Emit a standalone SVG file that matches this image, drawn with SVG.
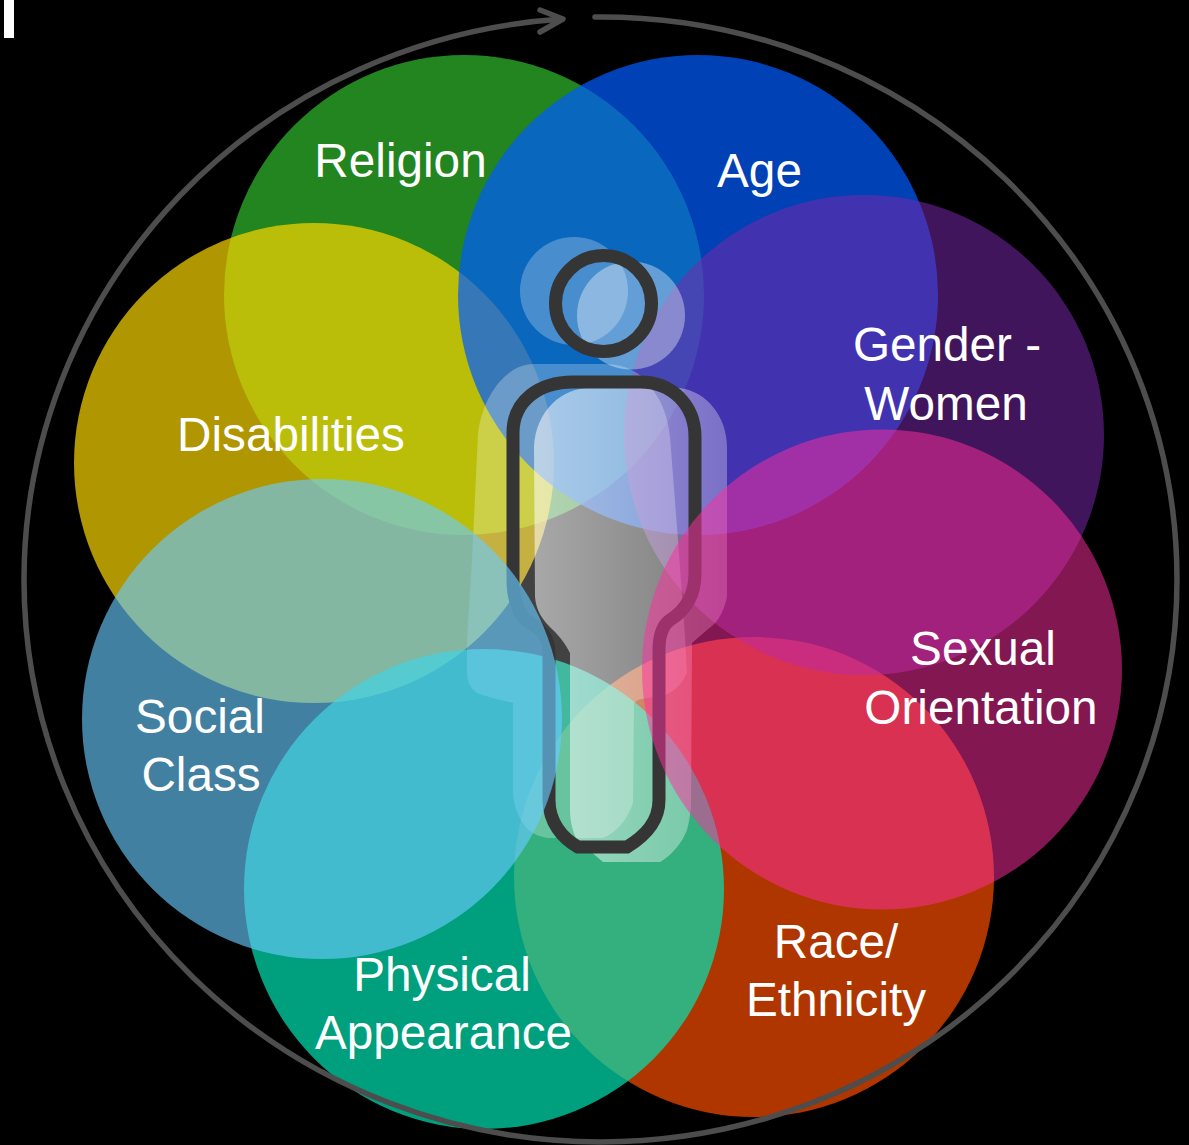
<svg xmlns="http://www.w3.org/2000/svg" width="1189" height="1145" viewBox="0 0 1189 1145">
<style>
text{font-family:"Liberation Sans",Arial,sans-serif;font-size:47.7px;fill:#fff;text-anchor:middle}
.c{stroke:none}
.ln{fill:none;stroke:#353535;stroke-width:13}
.ring{fill:none;stroke:#4d4d4d;stroke-width:5.5;stroke-linecap:round;stroke-linejoin:round}
</style>
<defs>
<linearGradient id="gb" gradientUnits="userSpaceOnUse" x1="534" y1="0" x2="727" y2="0"><stop offset="0" stop-color="#fff" stop-opacity=".54"/><stop offset="1" stop-color="#fff" stop-opacity=".3"/></linearGradient>
</defs>
<rect width="1189" height="1145" fill="#000"/>
<rect x="4" y="0" width="10" height="38" fill="#fff"/>
<g id="religion"><circle class="c" cx="464" cy="295" r="240" fill="#31bd2c" fill-opacity=".7"/><text x="400.500" y="176.500">Religion</text></g>
<g id="disabilities"><circle class="c" cx="314" cy="463" r="240" fill="#fbd600" fill-opacity=".7"/><text x="291" y="451">Disabilities</text></g>
<g id="age"><circle class="c" cx="698" cy="295" r="240" fill="#005bff" fill-opacity=".71"/><text x="759.500" y="187">Age</text></g>
<g id="race"><circle class="c" cx="754" cy="877" r="240" fill="#fb4d00" fill-opacity=".7"/><text x="836" y="958">Race/</text><text x="836" y="1016">Ethnicity</text></g>
<g id="gender"><circle class="c" cx="864" cy="435" r="240" fill="#7a28ac" fill-opacity=".53"/><text x="947" y="361">Gender -</text><text x="946" y="420">Women</text></g>
<g id="physical"><circle class="c" cx="484" cy="889" r="240" fill="#00e2b4" fill-opacity=".7"/><text x="442" y="991">Physical</text><text x="443.500" y="1049">Appearance</text></g>
<g id="figure">
<circle cx="574" cy="291" r="54" fill="#fff" fill-opacity=".26"/>
<circle cx="631" cy="315.5" r="54" fill="#fff" fill-opacity=".37"/>
<path fill="#fff" fill-opacity=".26" d="M533,364 L603,364 C628,364 645,375 653,390 C664,405 668,420 670,437 L678,540 L685,637 L687,673 C680,688 670,695 657,697 C645,698 637,699 634,703 L633,803 C627,820 617,832 603,838 L547,838 C533,835 527,830 523,823 C516,812 513,802 513,790 L513,703 C505,701 490,698 477,693 C470,688 467,681 467,673 L467,640 L472,560 L478,433 C484,390 510,364 533,364 Z"/>
<path fill="url(#gb)" d="M534,447 C536,410 562,388 590,388 L680,388 C708,392 727,418 727,447 L727,597 C723,615 716,624 707,630 L692,643 L691,807 C690,815 689,823 687,830 C682,843 672,855 660,862 L603,862 L577,840 C572,830 570,820 570,810 L570,653 C565,643 560,637 553,630 C542,620 536,610 535,597 Z"/>
<circle class="ln" cx="603.5" cy="303.5" r="48"/>
<path class="ln" d="M513,433 C513,400 540,382 573,382 L640,382 C672,382 695,405 695,437 L695,573 C695,598 683,612 670,620 C663,625 659,633 659,650 L659,800 C659,822 645,836 627,847 L578,847 C562,838 549,822 549,800 L549,653 C549,642 546,636 540,630 C530,622 521,620 517,605 C514,597 513,590 513,580 Z"/>
</g>
<g id="orientation"><circle class="c" cx="882" cy="669.5" r="240" fill="#ff2e9e" fill-opacity=".51"/><text x="983" y="665">Sexual</text><text x="981" y="724">Orientation</text></g>
<g id="social"><circle class="c" cx="322" cy="719" r="240" fill="#69caff" fill-opacity=".63"/><text x="200" y="733">Social</text><text x="201" y="791">Class</text></g>
<g id="connectors">
<path class="ring" d="M595,17 A576.500,562.500 0 0 1 1177,579.500 A576.500,562.500 0 0 1 600.500,1142 A576.500,562.500 0 0 1 24,579.500 A576.500,562.500 0 0 1 562,19"/>
<path class="ring" d="M540,10 L563,19 L540,32"/>
</g>
</svg>
